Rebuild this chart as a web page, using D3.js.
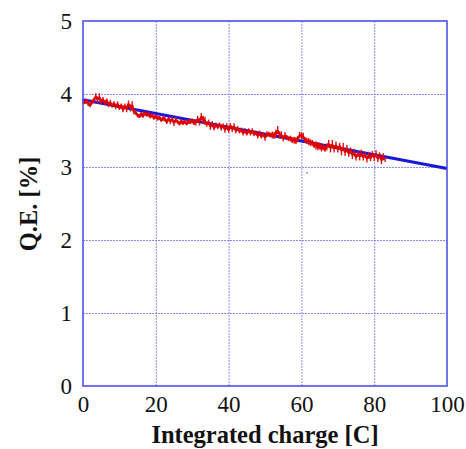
<!DOCTYPE html>
<html>
<head>
<meta charset="utf-8">
<script src="https://cdn.jsdelivr.net/npm/d3@7"></script>
<style>
  body { margin: 0; background: #fff; }
  svg { display: block; }
  .tick-label { font-family: "Liberation Serif", "Times New Roman", serif; font-size: 23px; fill: #111; }
  .axis-title { font-family: "Liberation Serif", "Times New Roman", serif; font-size: 24.5px; font-weight: bold; fill: #111; }
  .grid line { stroke: #8a8af2; stroke-dasharray: 2,1; }
</style>
</head>
<body>
<script>
var chargeStep = 0.5;
var qeMeasured = [
  3.90, 3.88, 3.91, 3.86, 3.85, 3.89, 3.92, 3.96, 3.93, 3.95,
  3.90, 3.92, 3.88, 3.91, 3.86, 3.88, 3.84, 3.87, 3.83, 3.86,
  3.81, 3.84, 3.79, 3.83, 3.80, 3.86, 3.82, 3.84, 3.76, 3.74,
  3.71, 3.69, 3.73, 3.70, 3.74, 3.71, 3.73, 3.69, 3.71, 3.67,
  3.70, 3.66, 3.68, 3.64, 3.67, 3.65, 3.62, 3.66, 3.63, 3.65,
  3.61, 3.64, 3.62, 3.59, 3.63, 3.60, 3.62, 3.59, 3.63, 3.61,
  3.64, 3.60, 3.62, 3.65, 3.63, 3.68, 3.66, 3.62, 3.59, 3.61,
  3.56, 3.58, 3.54, 3.57, 3.55, 3.58, 3.54, 3.56, 3.52, 3.55,
  3.51, 3.56, 3.53, 3.55, 3.50, 3.52, 3.49, 3.51, 3.47, 3.49,
  3.46, 3.50, 3.47, 3.49, 3.45, 3.47, 3.43, 3.46, 3.42, 3.45,
  3.41, 3.44, 3.46, 3.43, 3.45, 3.42, 3.47, 3.49, 3.45, 3.43,
  3.40, 3.43, 3.41, 3.38, 3.40, 3.36, 3.38, 3.35, 3.39, 3.43,
  3.44, 3.41, 3.38, 3.35, 3.36, 3.32, 3.34, 3.29, 3.31, 3.27,
  3.30, 3.25, 3.28, 3.24, 3.29, 3.31, 3.27, 3.30, 3.26, 3.29,
  3.25, 3.28, 3.23, 3.26, 3.21, 3.24, 3.19, 3.22, 3.17, 3.19,
  3.14, 3.17, 3.15, 3.18, 3.14, 3.16, 3.12, 3.15, 3.13, 3.17,
  3.14, 3.17, 3.12, 3.15, 3.10, 3.13, 3.11
];
// half-height of the noise spikes around the trace, 1 C steps (0..83)
var qeSpread = [
  0.03, 0.04, 0.03, 0.05, 0.06, 0.04, 0.03, 0.04, 0.03, 0.04, 0.03,
  0.04, 0.05, 0.06, 0.04, 0.03, 0.04, 0.03, 0.04, 0.03, 0.04,
  0.03, 0.04, 0.03, 0.04, 0.05, 0.03, 0.04, 0.03, 0.04, 0.04,
  0.05, 0.06, 0.07, 0.04, 0.05, 0.04, 0.03, 0.04, 0.05, 0.04,
  0.05, 0.04, 0.03, 0.04, 0.03, 0.04, 0.03, 0.04, 0.03, 0.05,
  0.04, 0.06, 0.07, 0.06, 0.05, 0.04, 0.05, 0.06, 0.05, 0.06,
  0.05, 0.06, 0.05, 0.07, 0.06, 0.05, 0.06, 0.07, 0.06, 0.05,
  0.07, 0.06, 0.05, 0.06, 0.05, 0.06, 0.05, 0.06, 0.05, 0.06,
  0.05, 0.06, 0.04
];
// stray point below the trace
var strayCharge = [61.5];
var strayQE = [2.92];

// linear fit (blue)
var fitCharge = [0, 100];
var fitQE = [3.92, 2.98];

var xTicks = [0, 20, 40, 60, 80, 100];
var yTicks = [0, 1, 2, 3, 4, 5];

var margin = {top: 21, right: 19, bottom: 63, left: 83},
    width = 466 - margin.left - margin.right,
    height = 449 - margin.top - margin.bottom;

var x = d3.scaleLinear().domain([0, 100]).range([0, width]);
var y = d3.scaleLinear().domain([0, 5]).range([height, 0]);

var svg = d3.select("body").append("svg")
    .attr("width", 466)
    .attr("height", 449)
    .append("g")
    .attr("transform", "translate(" + margin.left + "," + margin.top + ")");

// grid (dotted light blue)
svg.append("g")
    .attr("class", "grid")
    .attr("color", "#8a8af2")
    .attr("transform", "translate(0," + height + ")")
    .call(d3.axisBottom(x).tickValues(xTicks.slice(1, -1)).tickSize(-height).tickFormat(""))
    .call(function(g){ g.select(".domain").remove(); });
svg.append("g")
    .attr("class", "grid")
    .attr("color", "#8a8af2")
    .call(d3.axisLeft(y).tickValues(yTicks.slice(1, -1)).tickSize(-width).tickFormat(""))
    .call(function(g){ g.select(".domain").remove(); });

// fit line
var fitData = fitCharge.map(function(c, i){ return [c, fitQE[i]]; });
svg.append("path")
    .datum(fitData)
    .attr("fill", "none")
    .attr("stroke", "#1818d8")
    .attr("stroke-width", 3)
    .attr("d", d3.line().x(function(d){ return x(d[0]); }).y(function(d){ return y(d[1]); }));

// measured data: noise spikes, then the trace
var measured = qeMeasured.map(function(v, i){ return [i * chargeStep, v]; });
svg.selectAll(".spike")
    .data(measured)
    .enter().append("line")
    .attr("class", "spike")
    .attr("x1", function(d){ return x(d[0]); })
    .attr("x2", function(d){ return x(d[0]); })
    .attr("y1", function(d, i){ return y(d[1] + qeSpread[Math.floor(i * chargeStep)] * (i % 2 ? 1 : 0.6)); })
    .attr("y2", function(d, i){ return y(d[1] - qeSpread[Math.floor(i * chargeStep)] * (i % 2 ? 0.6 : 1)); })
    .attr("stroke", "#e01010")
    .attr("stroke-width", 1.4);

svg.append("path")
    .datum(measured)
    .attr("fill", "none")
    .attr("stroke", "#e00000")
    .attr("stroke-width", 2.6)
    .attr("stroke-linejoin", "round")
    .attr("d", d3.line().x(function(d){ return x(d[0]); }).y(function(d){ return y(d[1]); }));

svg.selectAll(".stray")
    .data(strayCharge)
    .enter().append("circle")
    .attr("class", "stray")
    .attr("cx", function(d){ return x(d); })
    .attr("cy", function(d, i){ return y(strayQE[i]); })
    .attr("r", 1)
    .attr("fill", "#f08080");

// frame
svg.append("rect")
    .attr("width", width)
    .attr("height", height)
    .attr("fill", "none")
    .attr("stroke", "#5050ea")
    .attr("stroke-width", 1.6);

// tick labels
var xAxis = svg.append("g")
    .attr("transform", "translate(0," + height + ")")
    .call(d3.axisBottom(x).tickValues(xTicks).tickFormat(d3.format("d")).tickSize(0).tickPadding(10));
xAxis.select(".domain").remove();
xAxis.selectAll("text").attr("class", "tick-label");
xAxis.attr("font-size", null).attr("font-family", null);

var yAxis = svg.append("g")
    .call(d3.axisLeft(y).tickValues(yTicks).tickFormat(d3.format("d")).tickSize(0).tickPadding(11));
yAxis.select(".domain").remove();
yAxis.selectAll("text").attr("class", "tick-label");
yAxis.attr("font-size", null).attr("font-family", null);

// axis titles
svg.append("text")
    .attr("class", "axis-title")
    .attr("text-anchor", "middle")
    .attr("x", width / 2)
    .attr("y", height + 57)
    .text("Integrated charge [C]");

svg.append("text")
    .attr("class", "axis-title")
    .attr("text-anchor", "middle")
    .attr("transform", "translate(" + (-46) + "," + (204 - margin.top) + ") rotate(-90)")
    .text("Q.E. [%]");
</script>
</body>
</html>
